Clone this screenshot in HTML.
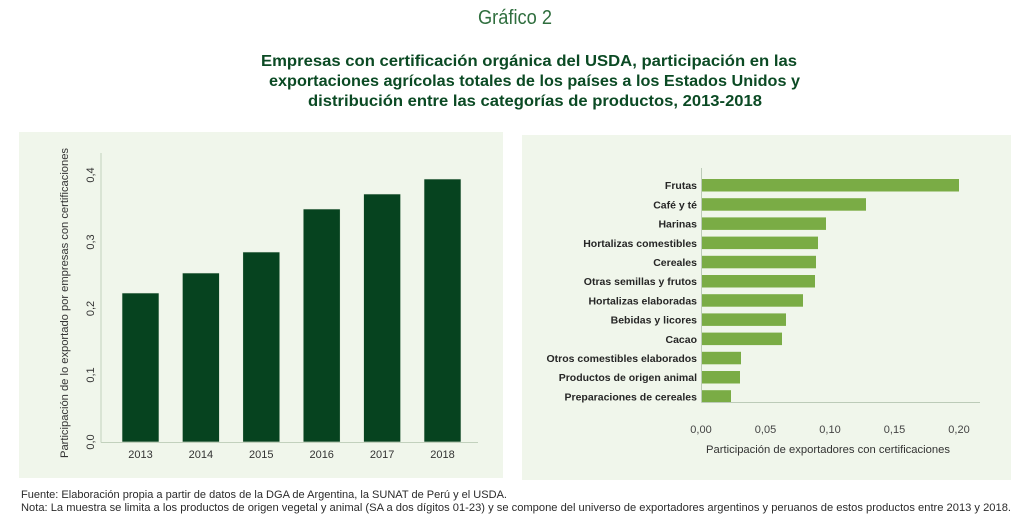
<!DOCTYPE html>
<html>
<head>
<meta charset="utf-8">
<style>
  html,body{margin:0;padding:0;background:#ffffff;}
  svg{display:block;}
  text{font-family:"Liberation Sans", "DejaVu Sans", sans-serif;}
</style>
</head>
<body>
<svg width="1024" height="531" viewBox="0 0 1024 531" xmlns="http://www.w3.org/2000/svg">
  <rect x="0" y="0" width="1024" height="531" fill="#ffffff"/>

  <!-- Titles -->
  <text x="515" y="24" text-anchor="middle" font-size="20" fill="#2f6e3e" textLength="74" lengthAdjust="spacingAndGlyphs">Gráfico 2</text>
  <g font-weight="bold" font-size="16" fill="#0b4a24" text-anchor="middle">
    <text x="529" y="66" textLength="536" lengthAdjust="spacingAndGlyphs">Empresas con certificación orgánica del USDA, participación en las</text>
    <text x="534.5" y="86" textLength="531" lengthAdjust="spacingAndGlyphs">exportaciones agrícolas totales de los países a los Estados Unidos y</text>
    <text x="535" y="106" textLength="454" lengthAdjust="spacingAndGlyphs">distribución entre las categorías de productos, 2013-2018</text>
  </g>

  <!-- Panels -->
  <rect x="19" y="132" width="484" height="346" fill="#f0f6eb"/>
  <rect x="522" y="135" width="489" height="345" fill="#f0f6eb"/>

  <!-- LEFT CHART -->
  <g fill="#06431f" stroke="#e8f0e2" stroke-width="0.6">
    <rect x="122" y="293" width="37" height="149"/>
    <rect x="182.4" y="273" width="37" height="169"/>
    <rect x="242.8" y="252" width="37" height="190"/>
    <rect x="303.2" y="209" width="37" height="233"/>
    <rect x="363.6" y="194" width="37" height="248"/>
    <rect x="424" y="179" width="37" height="263"/>
  </g>
  <g stroke="#c2d1bd" stroke-width="1">
    <line x1="101" y1="153" x2="101" y2="442.5"/>
    <line x1="101" y1="442.5" x2="478" y2="442.5"/>
  </g>
  <!-- y tick labels (rotated) -->
  <g font-size="11" fill="#333" text-anchor="middle">
    <text transform="translate(94,442) rotate(-90)">0,0</text>
    <text transform="translate(94,375) rotate(-90)">0,1</text>
    <text transform="translate(94,308.5) rotate(-90)">0,2</text>
    <text transform="translate(94,242) rotate(-90)">0,3</text>
    <text transform="translate(94,175) rotate(-90)">0,4</text>
  </g>
  <text transform="translate(68,303) rotate(-90)" font-size="11" fill="#333" text-anchor="middle" textLength="310" lengthAdjust="spacingAndGlyphs">Participación de lo exportado por empresas con certificaciones</text>
  <!-- x labels -->
  <g font-size="11" fill="#333" text-anchor="middle">
    <text x="140.5" y="458">2013</text>
    <text x="200.9" y="458">2014</text>
    <text x="261.3" y="458">2015</text>
    <text x="321.7" y="458">2016</text>
    <text x="382.1" y="458">2017</text>
    <text x="442.5" y="458">2018</text>
  </g>

  <!-- RIGHT CHART -->
  <g fill="#7aac45">
    <rect x="702" y="179" width="257" height="12.5"/>
    <rect x="702" y="198.2" width="164" height="12.5"/>
    <rect x="702" y="217.4" width="124" height="12.5"/>
    <rect x="702" y="236.6" width="116" height="12.5"/>
    <rect x="702" y="255.8" width="114" height="12.5"/>
    <rect x="702" y="275" width="113" height="12.5"/>
    <rect x="702" y="294.2" width="101" height="12.5"/>
    <rect x="702" y="313.4" width="84" height="12.5"/>
    <rect x="702" y="332.6" width="80" height="12.5"/>
    <rect x="702" y="351.8" width="39" height="12.5"/>
    <rect x="702" y="371" width="38" height="12.5"/>
    <rect x="702" y="390.2" width="29" height="12.5"/>
  </g>
  <g stroke="#bccbb8" stroke-width="1">
    <line x1="701.5" y1="168" x2="701.5" y2="402.5"/>
    <line x1="701.5" y1="402.5" x2="980" y2="402.5"/>
  </g>
  <g font-size="10.5" font-weight="bold" fill="#262626" text-anchor="end">
    <text x="697" y="189.2">Frutas</text>
    <text x="697" y="208.4">Café y té</text>
    <text x="697" y="227.6">Harinas</text>
    <text x="697" y="246.8">Hortalizas comestibles</text>
    <text x="697" y="266">Cereales</text>
    <text x="697" y="285.2">Otras semillas y frutos</text>
    <text x="697" y="304.4">Hortalizas elaboradas</text>
    <text x="697" y="323.6">Bebidas y licores</text>
    <text x="697" y="342.8">Cacao</text>
    <text x="697" y="362">Otros comestibles elaborados</text>
    <text x="697" y="381.2">Productos de origen animal</text>
    <text x="697" y="400.4">Preparaciones de cereales</text>
  </g>
  <g font-size="11" fill="#444" text-anchor="middle">
    <text x="701" y="433">0,00</text>
    <text x="765.5" y="433">0,05</text>
    <text x="830" y="433">0,10</text>
    <text x="894.5" y="433">0,15</text>
    <text x="959" y="433">0,20</text>
  </g>
  <text x="828" y="453" font-size="11" fill="#333" text-anchor="middle" textLength="244" lengthAdjust="spacingAndGlyphs">Participación de exportadores con certificaciones</text>

  <!-- Footer -->
  <g font-size="11" fill="#2b2b2b">
    <text x="21" y="498" textLength="486" lengthAdjust="spacingAndGlyphs">Fuente: Elaboración propia a partir de datos de la DGA de Argentina, la SUNAT de Perú y el USDA.</text>
    <text x="21" y="511" textLength="990" lengthAdjust="spacingAndGlyphs">Nota: La muestra se limita a los productos de origen vegetal y animal (SA a dos dígitos 01-23) y se compone del universo de exportadores argentinos y peruanos de estos productos entre 2013 y 2018.</text>
  </g>
</svg>
</body>
</html>
